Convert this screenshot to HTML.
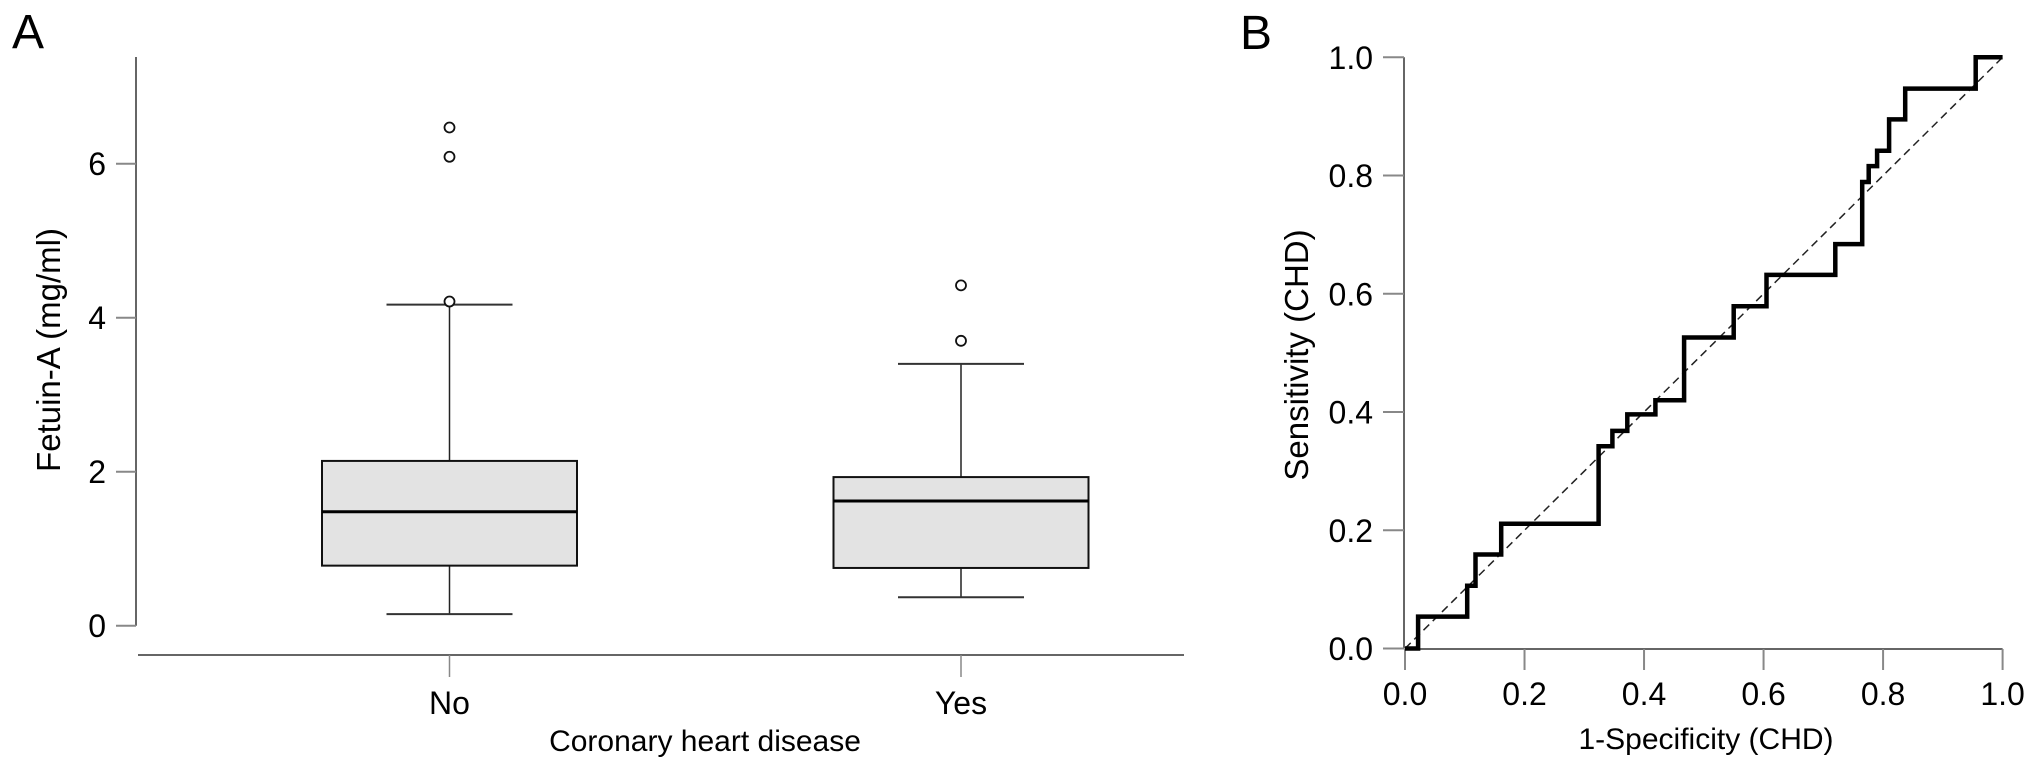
<!DOCTYPE html>
<html><head><meta charset="utf-8"><style>
body{margin:0;background:#fff;}
svg{display:block;font-family:"Liberation Sans",Arial,sans-serif;}
</style></head><body>
<svg id="fig" width="2032" height="771" viewBox="0 0 2032 771">
<text x="12" y="48" font-size="48">A</text>
<text x="1240" y="49" font-size="48">B</text>
<g id="pa"></g>
<g id="pb"></g>
</svg>
<script>
// Panel A data
const groups = ["No", "Yes"];
const whiskerLow = [0.15, 0.37];
const q1 = [0.78, 0.75];
const medians = [1.48, 1.62];
const q3 = [2.14, 1.93];
const whiskerHigh = [4.17, 3.40];
const outliers = [[6.47, 6.09, 4.21], [4.42, 3.70]];
const yTicksA = [0, 2, 4, 6];
// Panel B data
const fpr = [0, 0.022, 0.022, 0.104, 0.104, 0.118, 0.118, 0.161, 0.161, 0.324, 0.324, 0.347, 0.347, 0.372, 0.372, 0.419, 0.419, 0.467, 0.467, 0.55, 0.55, 0.605, 0.605, 0.72, 0.72, 0.765, 0.765, 0.776, 0.776, 0.79, 0.79, 0.81, 0.81, 0.837, 0.837, 0.955, 0.955, 1.0];
const tpr = [0, 0, 0.054, 0.054, 0.106, 0.106, 0.159, 0.159, 0.211, 0.211, 0.342, 0.342, 0.368, 0.368, 0.396, 0.396, 0.42, 0.42, 0.526, 0.526, 0.579, 0.579, 0.632, 0.632, 0.684, 0.684, 0.789, 0.789, 0.816, 0.816, 0.842, 0.842, 0.895, 0.895, 0.947, 0.947, 1.0, 1.0];
const ticksB = [0, 0.2, 0.4, 0.6, 0.8, 1.0];

const NS = "http://www.w3.org/2000/svg";
function mk(parent, tag, attrs, text) {
  const e = document.createElementNS(NS, tag);
  for (const k in attrs) e.setAttribute(k, attrs[k]);
  if (text !== undefined) e.textContent = text;
  parent.appendChild(e);
  return e;
}
// ---- Panel A
const pa = document.getElementById('pa');
const yA = v => 625.7 - v * 77;
const xA = i => [449.5, 961][i];
let e;
e = mk(pa, 'line', {x1:136, y1:57, x2:136, y2:yA(0), stroke:'#666', 'stroke-width':2});


e = mk(pa, 'line', {x1:138, y1:655, x2:1184, y2:655, stroke:'#666', 'stroke-width':2});


yTicksA.forEach(t => {
  e = mk(pa, 'line', {x1:116, y1:yA(t), x2:136, y2:yA(t), stroke:'#888', 'stroke-width':2});
  
  
  e = mk(pa, 'text', {x:106, y:yA(t)+11.5, 'font-size':32, 'text-anchor':'end'}, String(t));
  
  
});
e = mk(pa, 'text', {x:0, y:0, 'font-size':33, 'text-anchor':'middle', transform:'translate(60,350) rotate(-90)'}, 'Fetuin-A (mg/ml)');


e = mk(pa, 'text', {x:705, y:751, 'font-size':30, 'text-anchor':'middle'}, 'Coronary heart disease');


groups.forEach((g, i) => {
  const cx = xA(i), hw = 127.5, cw = 63;
  e = mk(pa, 'line', {x1:cx, y1:655, x2:cx, y2:677, stroke:'#888', 'stroke-width':1.5});
  
  
  e = mk(pa, 'text', {x:cx, y:714, 'font-size':32, 'text-anchor':'middle'}, g);
  
  
  e = mk(pa, 'line', {x1:cx, y1:yA(whiskerHigh[i]), x2:cx, y2:yA(whiskerLow[i]), stroke:'#222', 'stroke-width':1.5});
  
  
  [whiskerLow[i], whiskerHigh[i]].forEach(v => {
    e = mk(pa, 'line', {x1:cx-cw, y1:yA(v), x2:cx+cw, y2:yA(v), stroke:'#333', 'stroke-width':2});
    
    
  });
  e = mk(pa, 'rect', {x:cx-hw, y:yA(q3[i]), width:hw*2, height:yA(q1[i])-yA(q3[i]), fill:'#e3e3e3', stroke:'#111', 'stroke-width':2});
  
  
  e = mk(pa, 'line', {x1:cx-hw, y1:yA(medians[i]), x2:cx+hw, y2:yA(medians[i]), stroke:'#000', 'stroke-width':3});
  
  
  outliers[i].forEach(v => {
    e = mk(pa, 'circle', {cx:cx, cy:yA(v), r:5, fill:'#fff', stroke:'#111', 'stroke-width':1.8});
    
    
  });
});
// ---- Panel B
const pb = document.getElementById('pb');
const xB = v => 1405 + v * 597.6;
const yB = v => 648.5 - v * 591.2;
e = mk(pb, 'line', {x1:1404, y1:yB(1), x2:1404, y2:yB(0), stroke:'#666', 'stroke-width':2});


e = mk(pb, 'line', {x1:xB(0), y1:649, x2:xB(1), y2:649, stroke:'#666', 'stroke-width':2});


ticksB.forEach(t => {
  e = mk(pb, 'line', {x1:1383, y1:yB(t), x2:1404, y2:yB(t), stroke:'#888', 'stroke-width':2});
  
  
  e = mk(pb, 'text', {x:1373, y:yB(t)+11.5, 'font-size':32, 'text-anchor':'end'}, t.toFixed(1));
  
  
  e = mk(pb, 'line', {x1:xB(t), y1:649, x2:xB(t), y2:670, stroke:'#888', 'stroke-width':2});
  
  
  e = mk(pb, 'text', {x:xB(t), y:705, 'font-size':32, 'text-anchor':'middle'}, t.toFixed(1));
  
  
});
e = mk(pb, 'text', {x:0, y:0, 'font-size':33, 'text-anchor':'middle', transform:'translate(1308,355) rotate(-90)'}, 'Sensitivity (CHD)');


e = mk(pb, 'text', {x:1706, y:749, 'font-size':30, 'text-anchor':'middle'}, '1-Specificity (CHD)');


e = mk(pb, 'line', {x1:xB(0), y1:yB(0), x2:xB(1), y2:yB(1), stroke:'#222', 'stroke-width':1.5, 'stroke-dasharray':'8,5'});


const pts = fpr.map((f, i) => xB(f).toFixed(1) + ',' + yB(tpr[i]).toFixed(1)).join(' ');
e = mk(pb, 'polyline', {points:pts, fill:'none', stroke:'#000', 'stroke-width':4.5, 'stroke-linejoin':'miter'});


</script>
</body></html>
